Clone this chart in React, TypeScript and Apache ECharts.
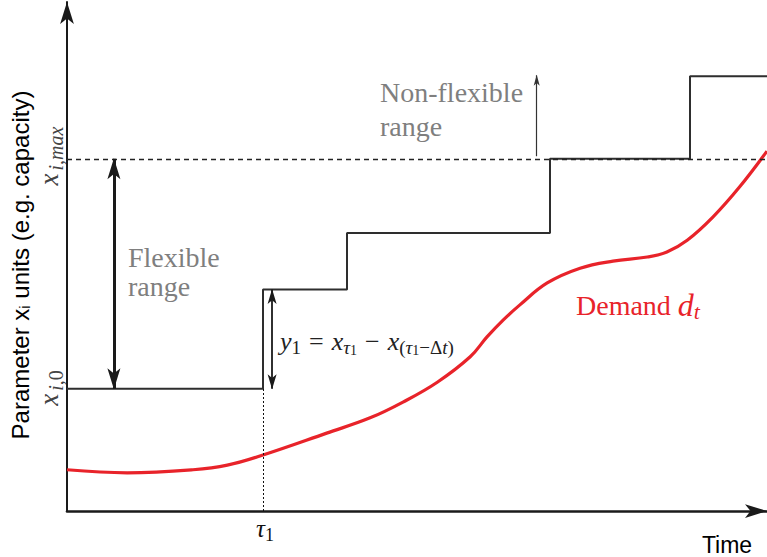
import React, { useEffect, useRef } from 'react';
import * as echarts from 'echarts';

// ---- data (time units 0..100, capacity units 0..100) ----
const timeRange = [0, 100];
const capacityRange = [0, 100];
const tau1 = 28;
const xi0 = 24;
const ximax = 69.2;
const stepTimes = [0, 28, 40, 69, 89, 100];
const stepLevels = [24, 43.5, 54.6, 69.2, 85.4, 85.4];
const demandTimes = [0, 8.6, 18, 22.9, 28, 37.1, 43.3, 48, 52.9, 57.6, 60, 62.3, 64.7, 68.6, 73.3, 78, 82.9, 85.7, 88.6, 92.3, 96.1, 100];
const demandValues = [8.1, 7.5, 8.1, 9.0, 11.0, 15.3, 18.3, 21.4, 25.3, 30.3, 34.2, 37.5, 40.5, 44.8, 47.7, 49.1, 49.9, 50.9, 53.2, 57.8, 63.7, 70.7];
const flexArrowTime = 6.7;
const y1ArrowTime = 29.3;
const nonFlexArrowTime = 67.1;
const nonFlexArrowTop = 85.6;

const SERIF = "'Liberation Serif', 'DejaVu Serif', serif";
const SANS = "'Liberation Sans', Arial, sans-serif";
const ARROW = 'path://M5,0 L10,16 L5,12 L0,16 Z';

function mathRich(size: number, sub: number, color: string, subPadLeft = 0, opPad = 5) {
  const subsub = Math.round(sub * 0.72);
  return {
    it: { fontFamily: SERIF, fontStyle: 'italic', fontSize: size, lineHeight: size + 6, fill: color },
    big: { fontFamily: SERIF, fontStyle: 'italic', fontSize: size + 4, lineHeight: size + 6, fill: color },
    rm: { fontFamily: SERIF, fontSize: size, lineHeight: size + 6, fill: color },
    op: { fontFamily: SERIF, fontSize: size, lineHeight: size + 6, fill: color, padding: [0, opPad, 0, opPad] },
    sub: { fontFamily: SERIF, fontStyle: 'italic', fontSize: sub, lineHeight: sub, fill: color, verticalAlign: 'bottom', padding: [0, 0, 0, subPadLeft] },
    subrm: { fontFamily: SERIF, fontSize: sub, lineHeight: sub, fill: color, verticalAlign: 'bottom' },
    subsub: { fontFamily: SERIF, fontSize: subsub, lineHeight: subsub - 2, fill: color, verticalAlign: 'bottom' },
  };
}

export default function App() {
  const ref = useRef<HTMLDivElement>(null);
  useEffect(() => {
    if (!ref.current) return;
    const chart = echarts.init(ref.current, undefined, { renderer: 'svg' });
    const stepData = stepTimes.map((t, i) => [t, stepLevels[i]]);
    const demandData = demandTimes.map((t, i) => [t, demandValues[i]]);
    const axisCommon = {
      type: 'value',
      axisLabel: { show: false },
      axisTick: { show: false },
      splitLine: { show: false },
    };
    const option: any = {
      animation: false,
      backgroundColor: '#ffffff',
      grid: { left: 67, right: 0, top: 2, bottom: 46 },
      xAxis: {
        ...axisCommon,
        min: timeRange[0],
        max: timeRange[1],
        axisLine: {
          show: true,
          lineStyle: { color: '#1a1a1a', width: 2.6 },
          symbol: ['none', ARROW],
          symbolSize: [14, 22],
          symbolOffset: [0, -11],
        },
      },
      yAxis: {
        ...axisCommon,
        min: capacityRange[0],
        max: capacityRange[1],
        axisLine: {
          show: true,
          lineStyle: { color: '#1a1a1a', width: 2 },
          symbol: ['none', ARROW],
          symbolSize: [14, 22],
          symbolOffset: [0, -11],
        },
      },
      series: [
        {
          type: 'line',
          data: [],
          silent: true,
          markLine: {
            silent: true,
            symbol: 'none',
            label: { show: false },
            lineStyle: { color: '#222', width: 1.3, type: [5, 4] },
            emphasis: { disabled: true },
            data: [{ yAxis: ximax }],
          },
        },
        {
          type: 'line',
          data: [],
          silent: true,
          markLine: {
            silent: true,
            symbol: 'none',
            label: { show: false },
            lineStyle: { color: '#111', width: 1, type: [2, 2] },
            emphasis: { disabled: true },
            data: [[{ coord: [tau1, 0] }, { coord: [tau1, xi0] }]],
          },
        },
        {
          type: 'line',
          data: stepData,
          step: 'end',
          showSymbol: false,
          silent: true,
          lineStyle: { color: '#2e2e2e', width: 2 },
        },
        {
          type: 'line',
          data: demandData,
          smooth: 0.4,
          showSymbol: false,
          silent: true,
          lineStyle: { color: '#e8232a', width: 3.2 },
        },
        {
          type: 'line',
          data: [],
          silent: true,
          markLine: {
            silent: true,
            symbol: [ARROW, ARROW],
            symbolSize: [13, 21],
            symbolOffset: [[0, 10], [0, 10]],
            label: { show: false },
            lineStyle: { color: '#1a1a1a', width: 3, type: 'solid' },
            emphasis: { disabled: true },
            data: [[{ coord: [flexArrowTime, ximax] }, { coord: [flexArrowTime, xi0] }]],
          },
        },
        {
          type: 'line',
          data: [],
          silent: true,
          markLine: {
            silent: true,
            symbol: [ARROW, ARROW],
            symbolSize: [9, 15],
            symbolOffset: [[0, 7], [0, 7]],
            label: { show: false },
            lineStyle: { color: '#1a1a1a', width: 1.8, type: 'solid' },
            emphasis: { disabled: true },
            data: [[{ coord: [y1ArrowTime, stepLevels[1]] }, { coord: [y1ArrowTime, xi0] }]],
          },
        },
        {
          type: 'line',
          data: [],
          silent: true,
          markLine: {
            silent: true,
            symbol: ['none', ARROW],
            symbolSize: [6, 11],
            symbolOffset: [0, [0, 5]],
            label: { show: false },
            lineStyle: { color: '#333', width: 1.2, type: 'solid' },
            emphasis: { disabled: true },
            data: [[{ coord: [nonFlexArrowTime, ximax + 0.5] }, { coord: [nonFlexArrowTime, nonFlexArrowTop] }]],
          },
        },
      ],
      graphic: [
        {
          type: 'text', x: 20, y: 265, rotation: Math.PI / 2, silent: true,
          style: {
            text: 'Parameter x{s|i} units (e.g. capacity)',
            fontFamily: SANS, fontSize: 24, fill: '#000', align: 'center', verticalAlign: 'middle',
            rich: {
              s: { fontFamily: SANS, fontSize: 15, lineHeight: 15, fill: '#000', verticalAlign: 'bottom' },
            },
          },
        },
        {
          type: 'text', x: 49, y: 156, rotation: Math.PI / 2, silent: true,
          style: {
            text: '{it|x}{sub|i,max}', align: 'center', verticalAlign: 'middle',
            rich: mathRich(27, 20, '#444', 3),
          },
        },
        {
          type: 'text', x: 49, y: 388, rotation: Math.PI / 2, silent: true,
          style: {
            text: '{it|x}{sub|i,}{subrm|0}', align: 'center', verticalAlign: 'middle',
            rich: mathRich(27, 20, '#444', 3),
          },
        },
        {
          type: 'text', x: 265, y: 528, silent: true,
          style: {
            text: '{it|τ}{subrm|1}', align: 'center', verticalAlign: 'middle',
            rich: mathRich(25, 18, '#111'),
          },
        },
        {
          type: 'text', x: 727, y: 545, silent: true,
          style: { text: 'Time', fontFamily: SANS, fontSize: 23, fill: '#000', align: 'center', verticalAlign: 'middle' },
        },
        {
          type: 'text', x: 128, y: 257, silent: true,
          style: { text: 'Flexible', fontFamily: SERIF, fontSize: 28, fill: '#7f7f7f', align: 'left', verticalAlign: 'middle' },
        },
        {
          type: 'text', x: 128, y: 286, silent: true,
          style: { text: 'range', fontFamily: SERIF, fontSize: 28, fill: '#7f7f7f', align: 'left', verticalAlign: 'middle' },
        },
        {
          type: 'text', x: 380, y: 92.5, silent: true,
          style: { text: 'Non-flexible', fontFamily: SERIF, fontSize: 28, fill: '#7f7f7f', align: 'left', verticalAlign: 'middle' },
        },
        {
          type: 'text', x: 380, y: 126, silent: true,
          style: { text: 'range', fontFamily: SERIF, fontSize: 28, fill: '#7f7f7f', align: 'left', verticalAlign: 'middle' },
        },
        {
          type: 'text', x: 576, y: 305, silent: true,
          style: {
            text: '{rm|Demand }{big|d}{sub|t}', align: 'left', verticalAlign: 'middle',
            rich: mathRich(28, 22, '#e8232a'),
          },
        },
        {
          type: 'text', x: 280, y: 341, silent: true,
          style: {
            text: '{it|y}{subrm|1}{op|=}{it|x}{sub|τ}{subsub|1}{op|−}{it|x}{subrm|(}{sub|τ}{subsub|1}{subrm|−Δ}{sub|t}{subrm|)}',
            align: 'left', verticalAlign: 'middle',
            rich: mathRich(26, 19, '#222', 0, 8),
          },
        },
      ],
    };
    chart.setOption(option);
    return () => chart.dispose();
  }, []);
  return <div ref={ref} style={{ width: 767, height: 557, position: 'absolute', left: 0, top: 0 }} />;
}
